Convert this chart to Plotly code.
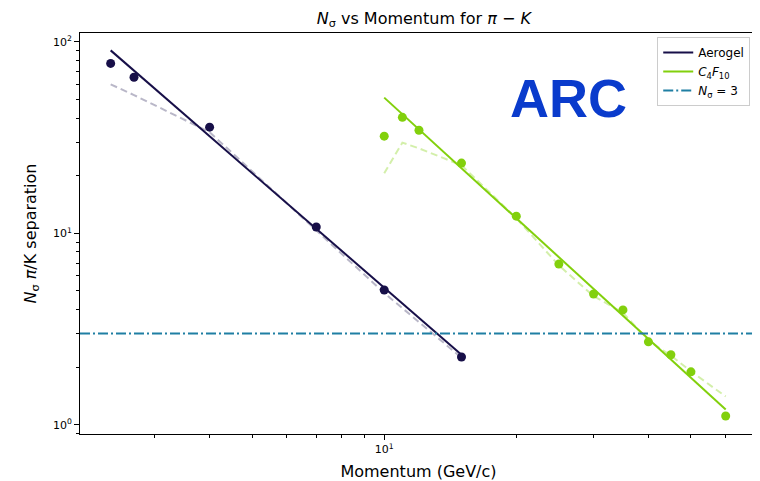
import plotly.graph_objects as go

# ---- data ----
aero_p = [2.38, 2.69, 4.0, 7.0, 10.0, 15.0]
aero_sep = [77.3, 65.4, 35.9, 10.8, 5.06, 2.26]
aero_theory = [60.1, 52.8, 33.8, 10.4, 4.88, 2.24]
aero_fit_p = [2.38, 15.0]
aero_fit = [90.4, 2.32]

c4_p = [10, 11, 12, 15, 20, 25, 30, 35, 40, 45, 50, 60]
c4_sep = [32.2, 40.4, 34.6, 23.3, 12.3, 6.91, 4.82, 3.98, 2.71, 2.32, 1.89, 1.11]
c4_theory = [20.6, 29.8, 27.8, 22.7, 12.0, 6.8, 4.7, 3.85, 2.75, 2.3, 1.9, 1.405]
c4_fit_p = [10, 60]
c4_fit = [51.2, 1.2]

n_sigma_level = 3

x_major = [10]
x_major_text = ["10<sup>1</sup>"]
x_minor = [3, 4, 5, 6, 7, 8, 9, 20, 30, 40, 50, 60, 70]
y_major = [1, 10, 100]
y_major_text = ["10<sup>0</sup>", "10<sup>1</sup>", "10<sup>2</sup>"]
y_minor = [0.9, 2, 3, 4, 5, 6, 7, 8, 9, 20, 30, 40, 50, 60, 70, 80, 90]

NAVY = "#170f48"
NAVY_LIGHT = "rgba(23,15,72,0.3)"
GREEN = "#82d00c"
GREEN_LIGHT = "rgba(130,208,12,0.35)"
TEAL = "#1f7fa3"
FONT = "DejaVu Sans"

fig = go.Figure()

# theory (dashed, light)
fig.add_trace(go.Scatter(x=aero_p, y=aero_theory, mode="lines",
                         line=dict(color=NAVY_LIGHT, width=2, dash="7px,4px"),
                         showlegend=False))
fig.add_trace(go.Scatter(x=c4_p, y=c4_theory, mode="lines",
                         line=dict(color=GREEN_LIGHT, width=2, dash="7px,4px"),
                         showlegend=False))
# fits
fig.add_trace(go.Scatter(x=aero_fit_p, y=aero_fit, mode="lines", name="Aerogel",
                         line=dict(color=NAVY, width=2)))
fig.add_trace(go.Scatter(x=c4_fit_p, y=c4_fit, mode="lines",
                         name="<i>C</i><sub>4</sub><i>F</i><sub>10</sub>",
                         line=dict(color=GREEN, width=2)))
# N_sigma = 3 legend entry
fig.add_trace(go.Scatter(x=[None], y=[None], mode="lines",
                         name="<i>N</i><sub>σ</sub> = 3",
                         line=dict(color=TEAL, width=2, dash="10px,3px,2px,3px")))
# points
fig.add_trace(go.Scatter(x=aero_p, y=aero_sep, mode="markers",
                         marker=dict(color=NAVY, size=9), showlegend=False))
fig.add_trace(go.Scatter(x=c4_p, y=c4_sep, mode="markers",
                         marker=dict(color=GREEN, size=9), showlegend=False))

fig.add_shape(type="line", xref="paper", x0=0, x1=1, yref="y",
              y0=n_sigma_level, y1=n_sigma_level,
              line=dict(color=TEAL, width=2, dash="10px,3px,2px,3px"))

fig.add_annotation(text="<b>ARC</b>", xref="paper", yref="paper",
                   x=0.721, y=0.838, xanchor="center", yanchor="middle",
                   showarrow=False,
                   font=dict(family="Liberation Sans, Arial", size=54, color="#0a3bcc"))

axis_common = dict(showline=True, linecolor="black", linewidth=1, mirror=True,
                   showgrid=False, zeroline=False, ticks="outside", ticklen=5,
                   tickcolor="black", tickfont=dict(family=FONT, size=11, color="black"))

fig.update_xaxes(type="log", range=[0.3067, 1.8495], tickmode="array",
                 tickvals=x_major, ticktext=x_major_text,
                 minor=dict(tickmode="array", tickvals=x_minor, ticks="outside",
                            ticklen=3, tickcolor="black", showgrid=False),
                 title=dict(text="Momentum (GeV/c)", standoff=14,
                            font=dict(family=FONT, size=16, color="black")),
                 **axis_common)
fig.update_yaxes(type="log", range=[-0.0485, 2.047], tickmode="array",
                 tickvals=y_major, ticktext=y_major_text,
                 minor=dict(tickmode="array", tickvals=y_minor, ticks="outside",
                            ticklen=3, tickcolor="black", showgrid=False),
                 title=dict(text="<i>N</i><sub>σ</sub> <i>π</i>/K separation", standoff=12,
                            font=dict(family=FONT, size=16, color="black")),
                 **axis_common)

# the page has an 8px body margin, so the figure is shifted by 8px
fig.update_layout(
    width=752, height=473,
    margin=dict(l=72, r=3, t=25, b=47, autoexpand=False),
    paper_bgcolor="white", plot_bgcolor="white",
    title=dict(text="<i>N</i><sub>σ</sub> vs Momentum for <i>π</i> − <i>K</i>",
               x=0.553, xanchor="center", y=1 - 10 / 473, yanchor="middle",
               font=dict(family=FONT, size=16, color="black")),
    legend=dict(x=0.99, xanchor="right", y=0.99, yanchor="top",
                bgcolor="white", bordercolor="#cccccc", borderwidth=1,
                font=dict(family=FONT, size=12, color="black"),
                tracegroupgap=0, itemwidth=30),
    showlegend=True,
)

fig.write_html("out.html")
